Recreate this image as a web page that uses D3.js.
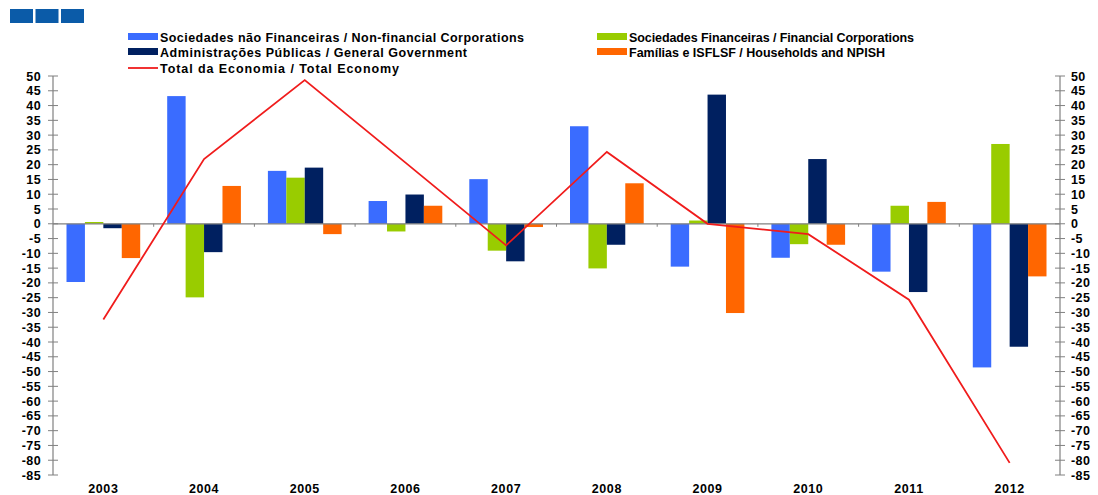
<!DOCTYPE html>
<html>
<head>
<meta charset="utf-8">
<script src="https://cdn.jsdelivr.net/npm/d3@7"></script>
<style>
  body { margin: 0; background: #fff; }
  text { font-family: "Liberation Sans", Arial, sans-serif; }
</style>
</head>
<body>
<div id="chart"></div>
<script>
var years = ["2003", "2004", "2005", "2006", "2007", "2008", "2009", "2010", "2011", "2012"];
var seriesNames = [
  "Sociedades não Financeiras / Non-financial Corporations",
  "Sociedades Financeiras / Financial Corporations",
  "Administrações Públicas / General Government",
  "Famílias e ISFLSF / Households and NPISH"
];
var nonFinancial = [-19.7, 43.2, 17.9, 7.7, 15.1, 33.0, -14.5, -11.5, -16.2, -48.6];
var financial    = [0.6, -24.9, 15.6, -2.6, -9.1, -15.1, 1.1, -6.9, 6.1, 27.0];
var government   = [-1.5, -9.6, 19.0, 9.9, -12.7, -7.1, 43.7, 21.9, -23.1, -41.6];
var households   = [-11.6, 12.8, -3.5, 6.1, -1.1, 13.7, -30.2, -7.1, 7.4, -17.8];
var totalName = "Total da Economia / Total Economy";
var total        = [-32.4, 21.9, 48.6, 20.7, -7.3, 24.3, 0.0, -3.5, -25.7, -80.9];
var yTicks = d3.range(-85, 51, 5);

var colors = ["#3a6cff", "#99cc00", "#002060", "#ff6600"];
var lineColor = "#f01c1c";
var seriesValues = [nonFinancial, financial, government, households];

var W = 1098, H = 495;
var plotLeft = 53, plotRight = 1060, plotTop = 76, plotBottom = 475;

var svg = d3.select("#chart").append("svg")
  .attr("width", W).attr("height", H);

// logo squares
svg.selectAll(".logo").data([0, 1, 2]).enter().append("rect")
  .attr("x", function(d) { return 10 + d * 25.5; })
  .attr("y", 9).attr("width", 23).attr("height", 14)
  .attr("fill", "#0b5ba8");

var x0 = d3.scaleBand().domain(years).range([plotLeft, plotRight]).padding(0);
var x1 = d3.scaleBand().domain(d3.range(4))
  .range([13.5, x0.bandwidth() - 13.5]).padding(0);
var y = d3.scaleLinear().domain([-85, 50]).range([plotBottom, plotTop]);

// bars
years.forEach(function(yr, i) {
  seriesValues.forEach(function(vals, s) {
    var v = vals[i];
    svg.append("rect")
      .attr("x", x0(yr) + x1(s))
      .attr("width", x1.bandwidth())
      .attr("y", y(Math.max(0, v)))
      .attr("height", Math.abs(y(v) - y(0)))
      .attr("fill", colors[s]);
  });
});

// zero line with category ticks
var xAxis = svg.append("g")
  .attr("transform", "translate(0," + y(0) + ")");
xAxis.append("line")
  .attr("x1", plotLeft).attr("x2", plotRight)
  .attr("stroke", "#808080").attr("stroke-width", 1.2);
xAxis.selectAll(".ct").data(years.slice(1)).enter().append("line")
  .attr("x1", function(d) { return x0(d); })
  .attr("x2", function(d) { return x0(d); })
  .attr("y1", 0).attr("y2", 3)
  .attr("stroke", "#808080");

// year labels
svg.selectAll(".yr").data(years).enter().append("text")
  .attr("x", function(d) { return x0(d) + x0.bandwidth() / 2; })
  .attr("y", 493)
  .attr("text-anchor", "middle")
  .style("font-size", "12.5px").style("font-weight", "bold")
  .style("letter-spacing", "0.6px")
  .text(function(d) { return d; });

// y axes
function drawAxis(xPos, anchor, dx) {
  var g = svg.append("g");
  g.append("line")
    .attr("x1", xPos).attr("x2", xPos)
    .attr("y1", y(50)).attr("y2", y(-85))
    .attr("stroke", "#808080").attr("stroke-width", 1.2);
  g.selectAll(".tk").data(yTicks).enter().append("line")
    .attr("x1", xPos - 5).attr("x2", xPos + 5)
    .attr("y1", function(d) { return y(d); })
    .attr("y2", function(d) { return y(d); })
    .attr("stroke", "#808080");
  g.selectAll(".tl").data(yTicks).enter().append("text")
    .attr("x", xPos + dx)
    .attr("y", function(d) { return y(d) + 4.5; })
    .attr("text-anchor", anchor)
    .style("font-size", "12.5px").style("font-weight", "bold")
    .style("letter-spacing", "0.4px")
    .text(function(d) { return d; });
}
drawAxis(plotLeft, "end", -12);
drawAxis(plotRight, "start", 11);

// total line
var line = d3.line()
  .x(function(d, i) { return x0(years[i]) + x0.bandwidth() / 2; })
  .y(function(d) { return y(d); });
svg.append("path")
  .datum(total)
  .attr("d", line)
  .attr("fill", "none")
  .attr("stroke", lineColor)
  .attr("stroke-width", 1.8);

// legend
var legendItems = [
  { name: seriesNames[0], color: colors[0], x: 128, y: 37, w: 364, type: "bar" },
  { name: seriesNames[1], color: colors[1], x: 597, y: 37, w: 285, type: "bar" },
  { name: seriesNames[2], color: colors[2], x: 128, y: 52, w: 307, type: "bar" },
  { name: seriesNames[3], color: colors[3], x: 597, y: 52, w: 256, type: "bar" },
  { name: totalName, color: lineColor, x: 128, y: 68, w: 239, type: "line" }
];
legendItems.forEach(function(d) {
  if (d.type === "bar") {
    svg.append("rect")
      .attr("x", d.x).attr("y", d.y - 4)
      .attr("width", 30).attr("height", 7)
      .attr("fill", d.color);
  } else {
    svg.append("line")
      .attr("x1", d.x).attr("x2", d.x + 30)
      .attr("y1", d.y).attr("y2", d.y)
      .attr("stroke", d.color).attr("stroke-width", 1.8);
  }
  svg.append("text")
    .attr("x", d.x + 32).attr("y", d.y + 4.5)
    .attr("textLength", d.w).attr("lengthAdjust", "spacing")
    .style("font-size", "12.5px").style("font-weight", "bold")
    .text(d.name);
});
</script>
</body>
</html>
